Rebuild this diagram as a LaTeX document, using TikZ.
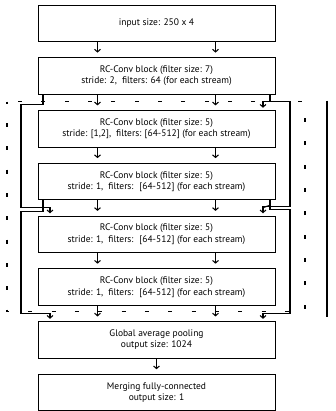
\documentclass[tikz,border=0pt]{standalone}
\usepackage{fontspec}
\setmainfont{PT Sans}
\usepackage{tikz}
\usetikzlibrary{arrows.meta,positioning,calc}

\begin{document}
\begin{tikzpicture}[
  font=\fontsize{8.1}{9.6}\selectfont,
  blk/.style={draw, line width=0.8pt, minimum width=7.11cm, minimum height=1.095cm, inner sep=0pt, align=center},
  flow/.style={line width=0.9pt, -{Straight Barb[length=2.2pt,width=5pt]}, shorten >=4pt},
  skiparrow/.style={line width=0.9pt, -{Straight Barb[length=2.2pt,width=5pt]}, shorten >=2pt},
  skipline/.style={line width=0.9pt},
  grp/.style={line width=0.9pt, dash pattern=on 0.12cm off 0.58cm, dash phase=0.06cm}
]
\useasboundingbox (0,0) rectangle (10.08,-12.33);

% main stack
\node[blk] (in) at (4.695,-0.6975) {input size: 250 x 4};
\node[blk, below=0.46cm of in] (cv1) {RC-Conv block (filter size: 7)\\stride: 2,~ filters: 64 (for each stream)};
\node[blk, below=0.46cm of cv1] (cv2) {RC-Conv block (filter size: 5)\\stride: [1,2],~ filters: [64-512] (for each stream)};
\node[blk, below=0.46cm of cv2] (cv3) {RC-Conv block (filter size: 5)\\stride: 1,~ filters:~ [64-512] (for each stream)};
\node[blk, below=0.46cm of cv3] (cv4) {RC-Conv block (filter size: 5)\\stride: 1,~ filters:~ [64-512] (for each stream)};
\node[blk, below=0.46cm of cv4] (cv5) {RC-Conv block (filter size: 5)\\stride: 1,~ filters:~ [64-512] (for each stream)};
\node[blk, below=0.46cm of cv5] (gap) {Global average pooling\\output size: 1024};
\node[blk, below=0.46cm of gap] (fc) {Merging fully-connected\\output size: 1};

% two streams
\foreach \a/\b in {in/cv1, cv1/cv2, cv2/cv3, cv3/cv4, cv4/cv5, cv5/gap}
  \foreach \s in {-1.77,1.77}
    \draw[flow] ([xshift=\s cm]\a.south) -- ([xshift=\s cm]\b.north);
\draw[flow] (gap) -- (fc);

% repeated group
\coordinate (gtl) at ([shift={(-4.485cm,-0.21cm)}]cv1.south);
\coordinate (gbr) at ([shift={(4.455cm,-0.18cm)}]cv5.south);
\draw[grp] (gtl) rectangle (gbr);
\draw[line width=0.9pt] ([xshift=0.66cm,yshift=0.03cm]gtl -| gbr) -- ([xshift=0.66cm,yshift=-0.15cm]gbr);

% skip connections, left
\draw[skiparrow] ([xshift=-3.405cm]cv1.south) -- ++(0,-0.3cm)
  -| ([xshift=-4.065cm,yshift=0.24cm]cv4.north) -| ([xshift=-3.195cm]cv4.north);
\draw[skiparrow] ([xshift=-3.405cm]cv3.south) -- ++(0,-0.33cm)
  -| ([xshift=-4.065cm,yshift=0.24cm]gap.north) -| ([xshift=-3.195cm]gap.north);

% skip connections, right
\draw[skiparrow] ([xshift=3.405cm]cv1.south) -- ++(0,-0.21cm) -| ([xshift=3.195cm]cv2.north);
\draw[skiparrow] ([xshift=3.405cm]cv1.south) -- ++(0,-0.21cm)
  -| ([xshift=4.005cm,yshift=0.27cm]cv4.north) -| ([xshift=3.195cm]cv4.north);
\draw[skipline] ([xshift=3.405cm]cv3.south) -- ++(0,-0.15cm) -- ([xshift=3.195cm,yshift=0.24cm]cv4.north);
\draw[skiparrow] ([xshift=3.405cm]cv3.south) -- ++(0,-0.27cm)
  -| ([xshift=4.005cm,yshift=0.24cm]gap.north) -| ([xshift=3.195cm]gap.north);
\end{tikzpicture}
\end{document}
